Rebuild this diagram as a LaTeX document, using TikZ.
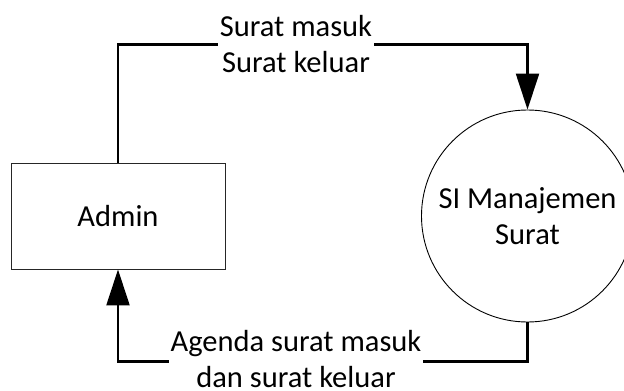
\documentclass[tikz,border=0pt]{standalone}
\usepackage{fontspec}
\setmainfont{Carlito}
\usetikzlibrary{arrows.meta}
\begin{document}
\begin{tikzpicture}[x=1pt,y=-1pt,
  every node/.style={font=\fontsize{30.5}{36.5}\selectfont, align=center, inner sep=0pt},
  entity/.style={draw=black!85, line width=0.9pt, minimum width=214pt, minimum height=106pt},
  process/.style={draw=black, line width=0.9pt, circle, minimum size=212pt},
  flow/.style={line width=2.2pt, -{Triangle[length=36pt,width=23pt]}},
  flowlabel/.style={fill=white, inner xsep=2pt, inner ysep=1pt}]
  \useasboundingbox (0,0) rectangle (624,391);
  \clip (0,0) rectangle (624,391);
  \fill[white] (0,0) rectangle (624,391);
  % external entity and process
  \node[entity] (admin) at (118,216) {Admin};
  \node[process] (si) at (527.5,216) {SI Manajemen\\Surat};
  % bends of the two data flows
  \coordinate (tl) at (118,44.5);
  \coordinate (tr) at (527.5,44.5);
  \coordinate (br) at (527.5,361.5);
  \coordinate (bl) at (118,361.5);
  \draw[flow, line join=miter] (admin.north) -- (tl) -- (tr) -- (si.north);
  \draw[flow, line join=miter] (si.south) -- (br) -- (bl) -- (admin.south);
  % flow labels
  \node[flowlabel] (lblin) at (296,44) {Surat masuk\\Surat keluar};
  \node[flowlabel] (lblout) at (296,359) {Agenda surat masuk\\dan surat keluar};
\end{tikzpicture}
\end{document}
